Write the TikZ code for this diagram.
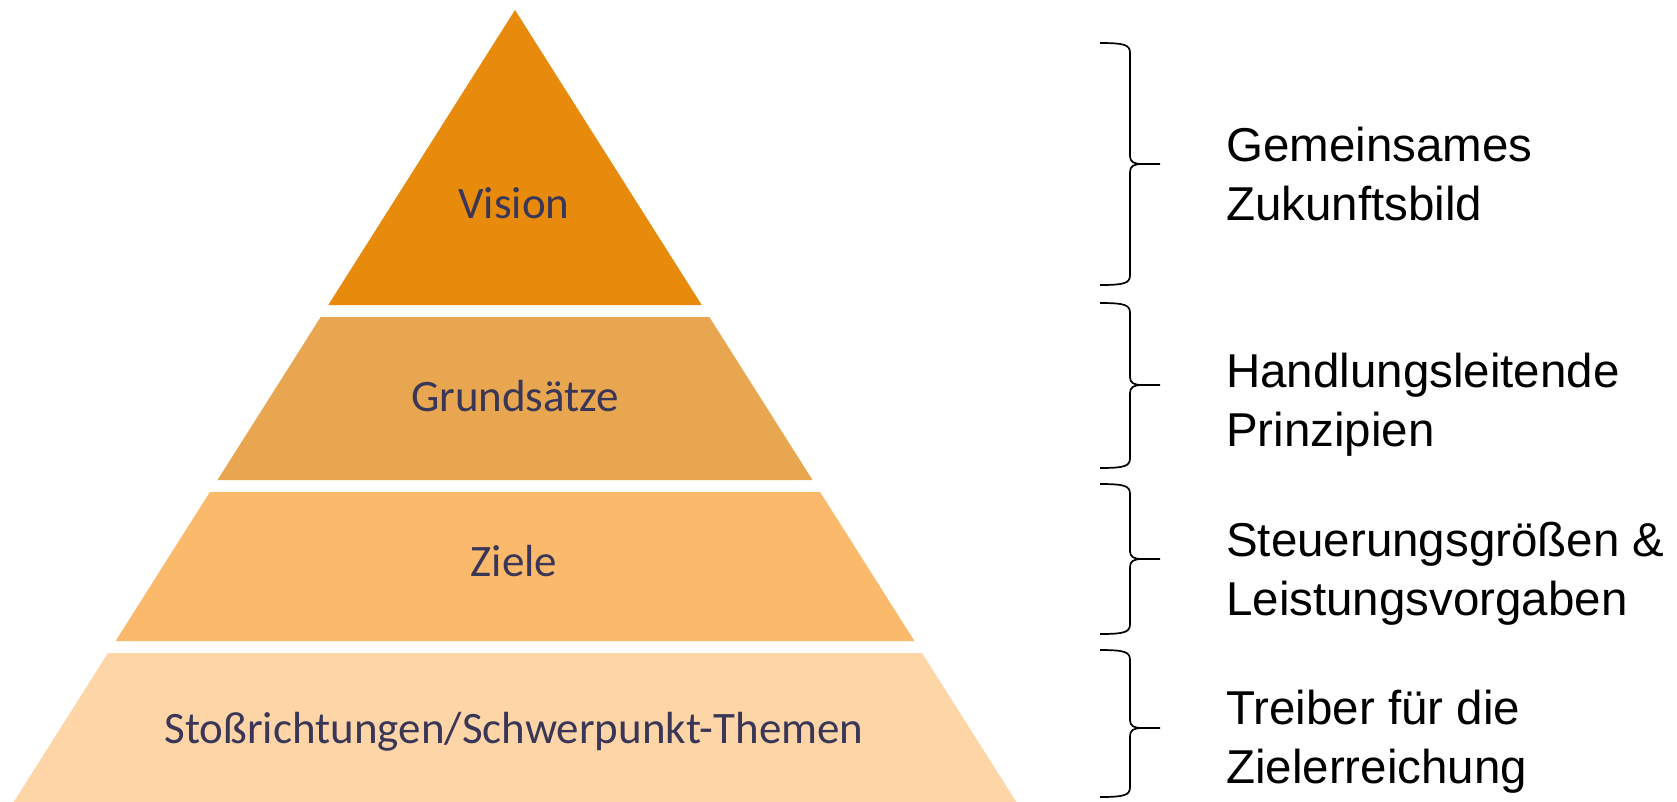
\documentclass[tikz,border=0pt]{standalone}
\usepackage{fontspec}
\setmainfont{Liberation Sans}
\newfontfamily\pyrfont{Carlito}
\definecolor{cVision}{RGB}{232,138,12}
\definecolor{cGrund}{RGB}{233,166,80}
\definecolor{cZiele}{RGB}{251,185,107}
\definecolor{cStoss}{RGB}{253,213,166}
\definecolor{cPyrText}{RGB}{58,54,88}
\tikzset{
  pyrlabel/.style={font=\pyrfont\fontsize{45}{54}\selectfont, text=cPyrText, inner sep=0pt},
  sidelabel/.style={font=\fontsize{47.5}{59}\selectfont, text=black, anchor=base west, inner sep=0pt, align=left},
  bracestyle/.style={draw=black, line width=1.7pt, line join=round}
}
\begin{document}
\begin{tikzpicture}[x=1pt,y=-1pt]
\useasboundingbox (0,0) rectangle (1677,801);
% pyramid layers: centre x=515, half width = 0.633*(y-10)
\fill[cVision] (515,10) -- ({515+0.633*295},305) -- ({515-0.633*295},305) -- cycle;
\fill[cGrund] ({515-0.633*307},317) -- ({515+0.633*307},317) -- ({515+0.633*470},480) -- ({515-0.633*470},480) -- cycle;
\fill[cZiele] ({515-0.633*482},492) -- ({515+0.633*482},492) -- ({515+0.633*631},641) -- ({515-0.633*631},641) -- cycle;
\fill[cStoss] ({515-0.633*643},653) -- ({515+0.633*643},653) -- ({515+0.633*800},810) -- ({515-0.633*800},810) -- cycle;
\node[pyrlabel] (vision) at (514,203) {Vision};
\node[pyrlabel] (grund) at (515,396) {Grundsätze};
\node[pyrlabel] (ziele) at (514,561) {Ziele};
\node[pyrlabel] (stoss) at (514,732) {Stoßrichtungen/Schwerpunkt-Themen};
% braces
\foreach \t/\m/\b in {43/164/285, 303/385/468, 484/559/634, 650/728/797}{
  \draw[bracestyle] (1100,\t) .. controls (1125,\t) and (1130,{\t+2}) .. (1130,{\t+10})
     -- (1130,{\m-8}) .. controls (1130,{\m-2}) and (1134,\m) .. (1142,\m) -- (1160,\m);
  \draw[bracestyle] (1142,\m) .. controls (1134,\m) and (1130,{\m+2}) .. (1130,{\m+8})
     -- (1130,{\b-10}) .. controls (1130,{\b-2}) and (1125,\b) .. (1100,\b);
}
\node[sidelabel] (t1) at (1226,220) {Gemeinsames\\Zukunftsbild};
\node[sidelabel] (t2) at (1226,446) {Handlungsleitende\\Prinzipien};
\node[sidelabel] (t3) at (1226,615) {Steuerungsgrößen \&\\Leistungsvorgaben};
\node[sidelabel] (t4) at (1226,783) {Treiber für die\\Zielerreichung};
\end{tikzpicture}
\end{document}
